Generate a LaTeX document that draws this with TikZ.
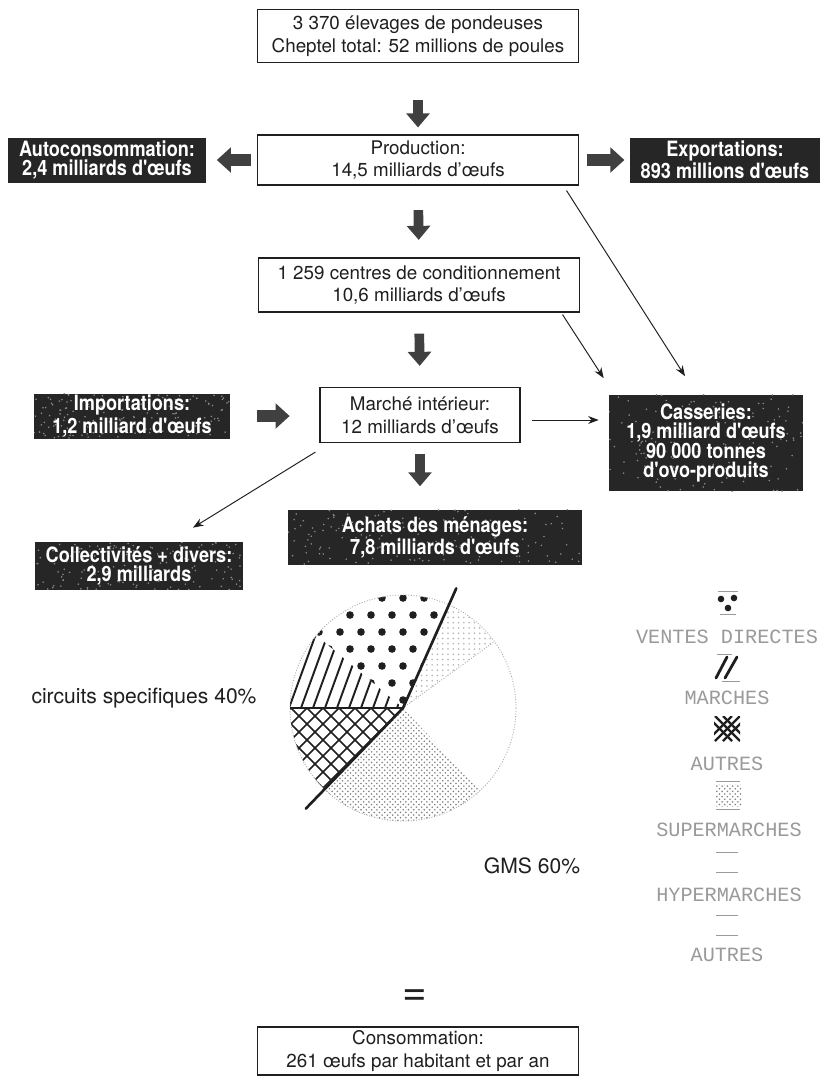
\documentclass[tikz,border=0pt]{standalone}
\usepackage{fontspec}
\setmainfont{TeX Gyre Heros}
\setmonofont{Liberation Mono}
\newfontfamily\condfont[FakeStretch=0.86]{TeX Gyre Heros}
\usetikzlibrary{arrows.meta,positioning,calc,patterns}
\definecolor{ink}{HTML}{1F1F1F}
\definecolor{slab}{HTML}{262626}
\definecolor{grit}{HTML}{8A8A8A}
\definecolor{legend}{HTML}{9A9A9A}
\tikzset{wbox/.style={draw=ink,line width=0.6pt,fill=white,align=center,text=ink,font=\fontsize{10.7}{13}\selectfont,inner sep=0pt},
dbox/.style={fill=slab,align=center,text=white,font=\condfont\bfseries\fontsize{12}{11}\selectfont,inner sep=0pt},
grainy/.style={dbox,path picture={\foreach \k in {1,...,160}{\fill[grit] let \p1=(path picture bounding box.south west),\p2=(path picture bounding box.north east) in ({\x1+rnd*(\x2-\x1)},{\y1+rnd*(\y2-\y1)}) circle (0.5pt);}}},
blk/.style={-{Triangle[length=8pt,width=13pt]},line width=5.5pt,draw=black!75},
hblk/.style={-{Triangle[length=8pt,width=14pt]},line width=6.8pt,draw=black!75},
flow/.style={-{Stealth[length=6pt,width=4.5pt]},line width=0.55pt,draw=ink},
leg/.style={font=\ttfamily\fontsize{11.5}{12}\selectfont,text=legend,inner sep=0pt},
lab/.style={font=\fontsize{12}{14}\selectfont,text=ink,inner sep=0pt}}

\begin{document}
\begin{tikzpicture}[x=0.02cm,y=-0.02cm]
\pgfmathsetseed{7}
\fill[white] (0,0) rectangle (820,1076);
\useasboundingbox (0,0) rectangle (820,1076);
% boxes of the chain
\node[wbox,minimum width=6.42cm,minimum height=1.06cm] (elev) at (418,36) {3 370 élevages de pondeuses\\Cheptel total: 52 millions de poules};
\node[wbox,minimum width=6.44cm,minimum height=1cm] (prod) at (418,160) {Production:\\14,5 milliards d'œufs};
\node[dbox,minimum width=3.96cm,minimum height=0.9cm] (auto) at (107,160) {Autoconsommation:\\2,4 milliards d'œufs};
\node[dbox,minimum width=3.8cm,minimum height=0.9cm] (export) at (725,160) {Exportations:\\893 millions d'œufs};
\node[wbox,minimum width=6.44cm,minimum height=1.08cm] (cond) at (419,285) {1 259 centres de conditionnement\\10,6 milliards d'œufs};
\node[grainy,minimum width=3.92cm,minimum height=0.9cm] (imp) at (132,416) {Importations:\\1,2 milliard d'œufs};
\node[wbox,minimum width=4cm,minimum height=1.1cm] (marche) at (420,415) {Marché intérieur:\\12 milliards d'œufs};
\node[grainy,minimum width=3.88cm,minimum height=1.94cm] (cass) at (706,443) {Casseries:\\1,9 milliard d'œufs\\90 000 tonnes\\d'ovo-produits};
\node[grainy,minimum width=5.88cm,minimum height=1.1cm] (achats) at (435,537) {Achats des ménages:\\7,8 milliards d'œufs};
\node[grainy,minimum width=4.16cm,minimum height=0.96cm] (coll) at (139,566) {Collectivités + divers:\\2,9 milliards};
\node[wbox,minimum width=6.42cm,minimum height=0.96cm] (conso) at (418,1051) {Consommation:\\261 œufs par habitant et par an};
% block arrows
\draw[blk,shorten <=21pt,shorten >=4pt] (elev.south) -- (prod.north);
\draw[blk,shorten <=14pt,shorten >=10pt] (prod.south) -- (cond.north);
\draw[blk,shorten <=12pt,shorten >=12pt] (cond.south) -- (marche.north);
\draw[blk,shorten <=6pt,shorten >=13pt] (marche.south) -- (marche.south |- achats.north);
\draw[hblk,shorten <=3.4pt,shorten >=6pt] (prod.west) -- (auto.east |- prod.west);
\draw[hblk,shorten <=4.5pt,shorten >=3pt] (prod.east) -- (export.west |- prod.east);
\draw[hblk,shorten <=15pt,shorten >=17pt] (imp.east) -- (imp.east -| marche.west);
% thin arrows
\draw[flow] ($(prod.south east)+(-13,5)$) -- ($(cass.north)+(-21,-18)$);
\draw[flow] ($(cond.south east)+(-18,2)$) -- ($(cass.north west)+(-5,-16)$);
\draw[flow] ($(marche.east)+(11,5)$) -- ($(cass.west |- marche.east)+(-10,5)$);
\draw[flow] ($(marche.south west)+(-4,9)$) -- ($(coll.north)+(54,-14)$);
% pie
\begin{scope}[shift={(403,708)},y=0.02cm]
\fill[pattern=crosshatch dots,pattern color=black!50] (0,0) -- (226:113) arc[start angle=226,end angle=313,radius=113] -- cycle;
\fill[pattern=dots,pattern color=black!30] (0,0) -- (36:113) arc[start angle=36,end angle=66,radius=113] -- cycle;
\begin{scope}
\clip (0,0) -- (66:113) arc[start angle=66,end angle=140,radius=113] -- cycle;
\foreach \r in {0,...,6}{\foreach \c in {-6,...,3}{\fill[ink] ({\c*21+mod(\r,2)*10},{8+\r*17}) circle (3.8);}}
\end{scope}
\begin{scope}
\clip (0,0) -- (140:113) arc[start angle=140,end angle=180,radius=113] -- cycle;
\foreach \t in {-150,-138,...,30}{\draw[line width=1.1pt,ink] (\t,0) -- ++(70:130);}
\end{scope}
\begin{scope}
\clip (0,0) -- (180:113) arc[start angle=180,end angle=226,radius=113] -- cycle;
\foreach \t in {-112,-96,...,80}{\draw[line width=0.9pt,ink] (\t-130,-130) -- (\t+10,10);}
\foreach \t in {-192,-176,...,0}{\draw[line width=0.9pt,ink] (\t+130,-130) -- (\t-10,10);}
\end{scope}
\draw[black!35,densely dotted,line width=0.5pt] (0,0) circle (113);
\draw[black!35,densely dotted,line width=0.5pt] (0,0) -- (36:113);
\draw[ink,line width=0.6pt] (180:113) -- (0,0);
\draw[ink,line width=1.5pt,line cap=round] (66:131) -- (0,0) -- (226:140);
\end{scope}
\node[lab] (circ) at (144,698) {circuits specifiques 40\%};
\node[lab] (gms) at (532,866) {GMS 60\%};
% legend
\fill[ink] (721,599) circle (3.3) (734,598) circle (3.3) (728,608) circle (3.3);
\draw[legend,line width=0.5pt] (718,591) -- (738,591) (720,614) -- (736,614);
\node[leg] (lvd) at (727,637) {VENTES DIRECTES};
\draw[ink,line width=1.6pt,line cap=round] (716,678) -- (727,657) (725,678) -- (737,657);
\draw[legend,line width=0.5pt] (717,654) -- (732,654) (722,681) -- (740,681);
\node[leg] (lma) at (727,698) {MARCHES};
\begin{scope}
\clip (714,716) rectangle (740,741);
\foreach \d in {-8,0,8}{\draw[ink,line width=1.3pt] (715+\d,741) -- ++(25,-25) (715+\d,716) -- ++(25,25);}
\end{scope}
\node[leg] (lau) at (727,764) {AUTRES};
\fill[pattern=crosshatch dots,pattern color=black!50] (715,784) rectangle (741,806);
\draw[legend,line width=0.5pt] (716,781) -- (740,781) (716,809) -- (740,809);
\node[leg] (lsu) at (729,830) {SUPERMARCHES};
\draw[legend,line width=0.5pt] (716,852) -- (738,852) (716,872) -- (738,872);
\node[leg] (lhy) at (729,895) {HYPERMARCHES};
\draw[legend,line width=0.5pt] (716,915) -- (738,915) (716,935) -- (738,935);
\node[leg] (lau2) at (727,955) {AUTRES};
% result
\node[font=\fontsize{24}{24}\selectfont,text=ink,inner sep=0pt] (eq) at (415,998) {=};
\end{tikzpicture}
\end{document}
